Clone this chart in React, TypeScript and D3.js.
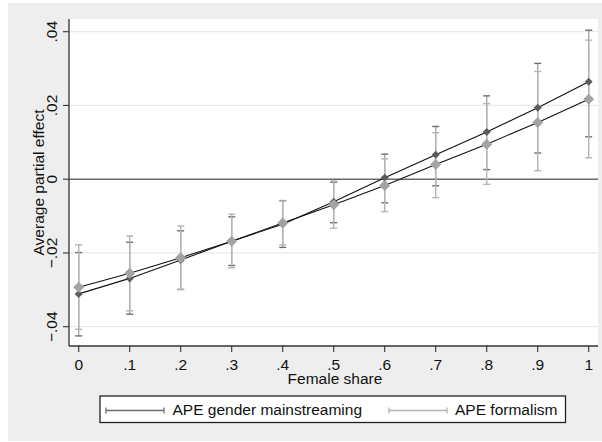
import * as d3 from 'd3'
import React from 'react'

// female share grid
const shares = [0, 0.1, 0.2, 0.3, 0.4, 0.5, 0.6, 0.7, 0.8, 0.9, 1]
// APE gender mainstreaming
const gmMean = [-0.0311, -0.0269, -0.0219, -0.0168, -0.0122, -0.0061, 0.0004, 0.0066, 0.0128, 0.0194, 0.0264]
const gmLo = [-0.0425, -0.0366, -0.0299, -0.0234, -0.0185, -0.0118, -0.0064, -0.0018, 0.0026, 0.0071, 0.0115]
const gmHi = [-0.0199, -0.0171, -0.0140, -0.0102, -0.0058, -0.0008, 0.0068, 0.0143, 0.0226, 0.0314, 0.0404]
// APE formalism
const fmMean = [-0.0293, -0.0255, -0.0213, -0.0168, -0.0119, -0.0069, -0.0017, 0.0040, 0.0095, 0.0154, 0.0217]
const fmLo = [-0.0407, -0.0357, -0.0299, -0.0240, -0.0178, -0.0133, -0.0088, -0.0050, -0.0014, 0.0023, 0.0058]
const fmHi = [-0.0178, -0.0154, -0.0127, -0.0095, -0.0059, -0.0005, 0.0055, 0.0126, 0.0205, 0.0292, 0.0377]

const xTicks = [0, 0.1, 0.2, 0.3, 0.4, 0.5, 0.6, 0.7, 0.8, 0.9, 1]
const yTicks = [-0.04, -0.02, 0, 0.02, 0.04]
const legendLabels = ['APE gender mainstreaming', 'APE formalism']

const W = 602, H = 442
const font = '"Liberation Sans", Arial, sans-serif'
const fmt = (v: number) => (v === 0 ? '0' : d3.format('.2~f')(v).replace('0.', '.'))

const diamond = (cx: number, cy: number, r: number) =>
  `M${cx},${cy - r}L${cx + r},${cy}L${cx},${cy + r}L${cx - r},${cy}Z`

export default function App() {
  const x = d3.scaleLinear().domain([0, 1]).range([78.7, 588.7])
  const y = d3.scaleLinear().domain([-0.04, 0.04]).range([326.7, 31.7])
  const plot = { l: 69, r: 598, t: 19, b: 346 }

  const line = d3.line<number>().x((d, i) => x(shares[i])).y(d => y(d))

  const caps = (lo: number[], hi: number[], capColor: string, barColor: string, key: string) =>
    shares.map((s, i) => (
      <g key={key + i}>
        <line x1={x(s)} x2={x(s)} y1={y(lo[i])} y2={y(hi[i])} stroke={barColor} strokeWidth={1.4} />
        <line x1={x(s) - 3.5} x2={x(s) + 3.5} y1={y(lo[i])} y2={y(lo[i])} stroke={capColor} strokeWidth={1.4} />
        <line x1={x(s) - 3.5} x2={x(s) + 3.5} y1={y(hi[i])} y2={y(hi[i])} stroke={capColor} strokeWidth={1.4} />
      </g>
    ))

  const legendItems = [
    { x0: 106, x1: 164, tx: 172.5, color: '#6e6e6e' },
    { x0: 389, x1: 447, tx: 455, color: '#b4b4b4' },
  ]

  return (
    <svg width={W} height={H} style={{ position: 'absolute', left: 0, top: 0 }} fontFamily={font}>
      <rect x={0} y={0} width={W} height={H} fill="#ffffff" />
      <rect x={8} y={3} width={W - 8} height={438} fill="#eeeeee" />
      <rect x={plot.l} y={plot.t} width={plot.r - plot.l} height={plot.b - plot.t} fill="#ffffff" />

      {/* grid */}
      {yTicks.filter(t => t !== 0).map(t => (
        <line key={'g' + t} x1={plot.l} x2={plot.r} y1={y(t)} y2={y(t)} stroke="#e9e9e9" strokeWidth={1.2} />
      ))}
      <line x1={plot.l} x2={plot.r} y1={y(0)} y2={y(0)} stroke="#6a6a6a" strokeWidth={1.4} />

      {/* confidence intervals */}
      {caps(gmLo, gmHi, '#6e6e6e', '#a8a8a8', 'gm')}
      {caps(fmLo, fmHi, '#b4b4b4', '#b4b4b4', 'fm')}

      {/* connected lines */}
      <path d={line(gmMean) || ''} fill="none" stroke="#111" strokeWidth={1.1} />
      <path d={line(fmMean) || ''} fill="none" stroke="#111" strokeWidth={1.1} />
      {gmMean.map((v, i) => (
        <path key={'gd' + i} d={diamond(x(shares[i]), y(v), 4)} fill="#5c5c5c" />
      ))}
      {fmMean.map((v, i) => (
        <path key={'fd' + i} d={diamond(x(shares[i]), y(v), 5.5)} fill="#a3a3a3" />
      ))}

      {/* axes */}
      <line x1={plot.l} x2={plot.l} y1={plot.t} y2={plot.b} stroke="#333" strokeWidth={1.3} />
      <line x1={plot.l} x2={plot.r} y1={plot.b} y2={plot.b} stroke="#333" strokeWidth={1.3} />
      {yTicks.map(t => (
        <g key={'yt' + t}>
          <line x1={plot.l - 6} x2={plot.l} y1={y(t)} y2={y(t)} stroke="#333" strokeWidth={1.1} />
          <text transform={`translate(57,${y(t)}) rotate(-90)`} textAnchor="middle" fontSize={15.5} fill="#111">
            {fmt(t)}
          </text>
        </g>
      ))}
      {xTicks.map(t => (
        <g key={'xt' + t}>
          <line x1={x(t)} x2={x(t)} y1={plot.b} y2={plot.b + 6} stroke="#333" strokeWidth={1.1} />
          <text x={x(t)} y={369.5} textAnchor="middle" fontSize={15.5} fill="#111">
            {fmt(t)}
          </text>
        </g>
      ))}
      <text x={335} y={384} textAnchor="middle" fontSize={15.5} fill="#111">Female share</text>
      <text transform={`translate(44,${(plot.t + plot.b) / 2}) rotate(-90)`} textAnchor="middle" fontSize={15.5} fill="#111">
        Average partial effect
      </text>

      {/* legend */}
      <rect x={100} y={396} width={465.5} height={26.5} fill="#ffffff" stroke="#222" strokeWidth={1.3} />
      {legendItems.map((it, i) => (
        <g key={'lg' + i}>
          <line x1={it.x0} x2={it.x1} y1={410.5} y2={410.5} stroke={it.color} strokeWidth={1.3} />
          <line x1={it.x0} x2={it.x0} y1={407.5} y2={413.5} stroke={it.color} strokeWidth={1.3} />
          <line x1={it.x1} x2={it.x1} y1={407.5} y2={413.5} stroke={it.color} strokeWidth={1.3} />
          <text x={it.tx} y={415} fontSize={15.5} fill="#111">{legendLabels[i]}</text>
        </g>
      ))}
    </svg>
  )
}
